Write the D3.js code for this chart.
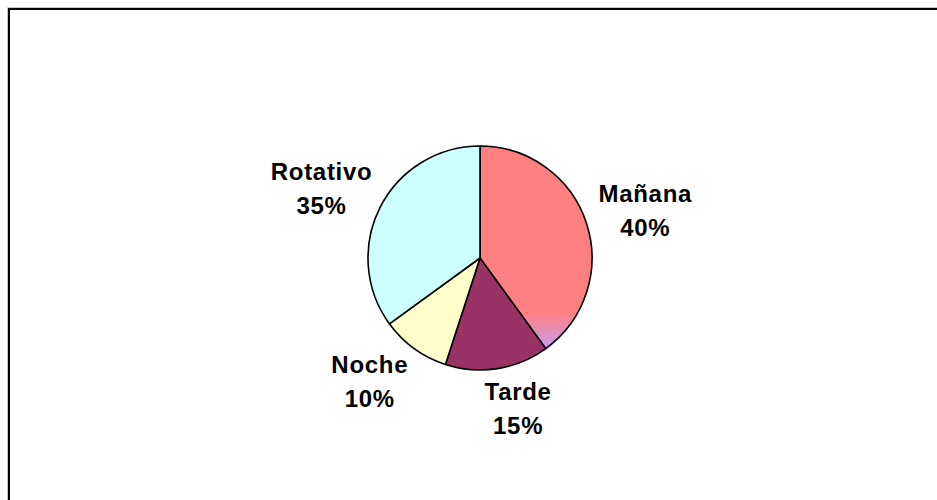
<!DOCTYPE html>
<html>
<head>
<meta charset="utf-8">
<script src="https://cdn.jsdelivr.net/npm/d3@7"></script>
<style>
  body { margin: 0; background: #fff; }
  svg { display: block; }
  .lbl { font-family: "Liberation Sans", Arial, sans-serif; font-weight: bold; font-size: 24px; letter-spacing: 0.7px; fill: #000; }
</style>
</head>
<body>
<div id="entry"></div>
<script>
var categories = ['Mañana', 'Tarde', 'Noche', 'Rotativo'];
var values = [40, 15, 10, 35];
var pctLabels = ['40%', '15%', '10%', '35%'];
var colors = ['url(#mananaFill)', '#993366', '#FFFFCC', '#CCFFFF'];

var width = 937, height = 500;
var cx = 480, cy = 258, radius = 112;

var svg = d3.select('#entry').append('svg')
  .attr('width', width)
  .attr('height', height);

// gradient at the bottom tip of the first slice (local coords of g)
var grad = svg.append('defs').append('linearGradient')
  .attr('id', 'mananaFill')
  .attr('gradientUnits', 'userSpaceOnUse')
  .attr('x1', 0).attr('y1', 312 - cy)
  .attr('x2', 0).attr('y2', 345 - cy);
grad.append('stop').attr('offset', 0).attr('stop-color', '#FF8080');
grad.append('stop').attr('offset', 1).attr('stop-color', '#CC99E6');

// frame (top and left edges only)
svg.append('path')
  .attr('d', 'M7.5,' + height + 'V7.5H' + width)
  .attr('fill', 'none').attr('stroke', '#c8c8c8').attr('stroke-width', 1);
svg.append('path')
  .attr('d', 'M9,' + height + 'V9H' + width)
  .attr('fill', 'none').attr('stroke', '#000').attr('stroke-width', 2);

var data = categories.map(function(c, i) {
  return {name: c, value: values[i], pct: pctLabels[i], color: colors[i]};
});

var pie = d3.pie()
  .sort(null)
  .value(function(d) { return d.value; });

var arc = d3.arc()
  .innerRadius(0)
  .outerRadius(radius);

var arcs = pie(data);

var g = svg.append('g')
  .attr('transform', 'translate(' + cx + ',' + cy + ')');

g.selectAll('path')
  .data(arcs)
  .enter()
  .append('path')
  .attr('d', arc)
  .style('fill', function(d) { return d.data.color; })
  .attr('stroke', '#000')
  .attr('stroke-width', 1.6)
  .attr('stroke-linejoin', 'round');

var gap = 15, lineGap = 34, blockH = 52;

var labels = g.selectAll('g.label')
  .data(arcs)
  .enter()
  .append('g')
  .attr('class', 'label');

labels.each(function(d) {
  var sel = d3.select(this);
  var t1 = sel.append('text').attr('class', 'lbl').attr('text-anchor', 'middle').text(d.data.name);
  var t2 = sel.append('text').attr('class', 'lbl').attr('text-anchor', 'middle').text(d.data.pct);
  var w = Math.max(t1.node().getComputedTextLength(), t2.node().getComputedTextLength());
  var a = (d.startAngle + d.endAngle) / 2;
  var sx = Math.sin(a), sy = -Math.cos(a);
  var r = radius + gap;
  var bx = r * sx + (w / 2) * sx;
  var by = r * sy + (blockH / 2) * sy;
  // labels under the pie sit a bit further out sideways
  if (sy > 0) bx += (sx > 0 ? 1 : -1) * 13;
  t1.attr('x', bx).attr('y', by - 9);
  t2.attr('x', bx).attr('y', by - 9 + lineGap);
});
</script>
</body>
</html>
